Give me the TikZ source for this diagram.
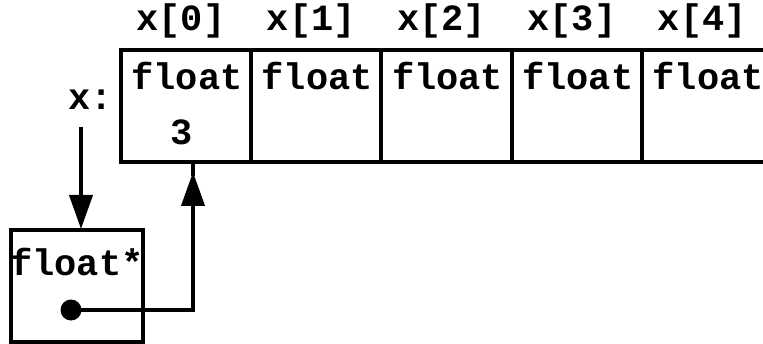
\documentclass[tikz,border=0pt]{standalone}
\usepackage{fontspec}
\setmonofont{Liberation Mono}
\usetikzlibrary{arrows.meta,positioning,calc}
\begin{document}
\begin{tikzpicture}[x=1pt, y=1pt,
    every node/.style={font=\ttfamily\bfseries\fontsize{37}{37}\selectfont},
    cellbox/.style={draw, line width=4pt, minimum width=130.3pt, minimum height=112pt, inner sep=0pt},
    ptrarrow/.style={line width=4pt, -{Triangle[length=34pt,width=23pt]}}]
        \useasboundingbox (0,0) rectangle (763,343);
        % --- array x[0..4] ---
        \foreach \i in {0,...,4} {
          \node[cellbox] (cell\i) at (186+130.3*\i,237) {};
          \node[anchor=base] (idx\i) at ($(cell\i.north)+(-5,17)$) {x[\i]};
          \node[anchor=base] (type\i) at ($(cell\i.north)+(1,-42)$) {float};
        }
        \node[anchor=base] (val0) at ($(cell0.center)+(-4,-39)$) {3};
        \node[anchor=base] (xlbl) at (91,233) {x:};

        % --- pointer box ---
        \node[cellbox, minimum width=132pt] (ptr) at (77,57) {};
        \node[anchor=base] (ptrtype) at ($(ptr.north)+(0,-47)$) {float*};
        \node[circle, fill, inner sep=0pt, minimum size=21pt] (dot) at (71,33) {};

        % Arrows
        \coordinate (xtail) at (81,216);
        \coordinate (bend) at (193,33);
        \draw[ptrarrow, shorten >=-1pt] (xtail) -- (xtail |- ptr.north);
        \draw[ptrarrow, shorten >=8pt] (dot.center) -- (bend) -- (bend |- cell0.south);
        \draw[line width=4pt] ($(bend |- cell0.south)+(0,-12)$) -- (bend |- cell0.south);
      \end{tikzpicture}
\end{document}
